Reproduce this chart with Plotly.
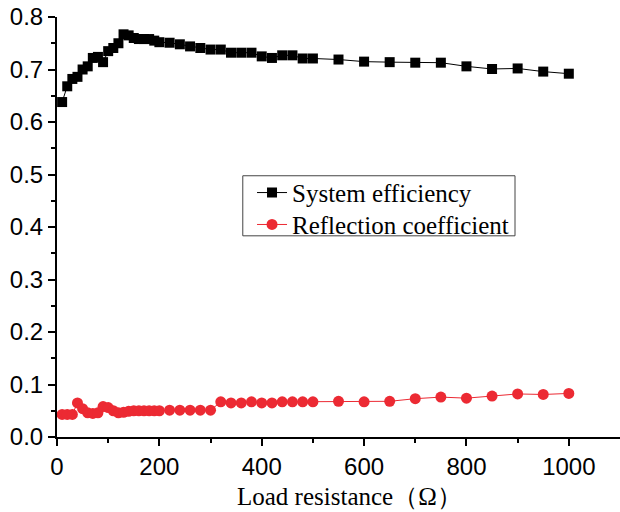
import plotly.graph_objects as go

resistance = [10, 20, 30, 40, 50, 60, 70, 80, 90, 100, 110, 120, 130, 140, 150, 160, 170, 180, 190, 200,
              220, 240, 260, 280, 300, 320, 340, 360, 380, 400, 420, 440, 460, 480, 500,
              550, 600, 650, 700, 750, 800, 850, 900, 950, 1000]
efficiency = [0.638, 0.668, 0.682, 0.686, 0.700, 0.706, 0.722, 0.724, 0.714, 0.735, 0.741, 0.750, 0.767, 0.765,
              0.760, 0.758, 0.758, 0.758, 0.755, 0.752,
              0.751, 0.748, 0.744, 0.741, 0.738, 0.738, 0.732, 0.732, 0.732, 0.725, 0.722, 0.727, 0.727, 0.721, 0.721,
              0.719, 0.715, 0.714, 0.713, 0.713, 0.706, 0.701, 0.702, 0.696, 0.692]
reflection = [0.043, 0.043, 0.043, 0.065, 0.054, 0.046, 0.045, 0.046, 0.058, 0.056, 0.050, 0.046, 0.047, 0.049,
              0.050, 0.050, 0.050, 0.050, 0.050, 0.050,
              0.051, 0.051, 0.051, 0.051, 0.051, 0.067, 0.065, 0.065, 0.067, 0.065, 0.065, 0.067, 0.067, 0.067, 0.067,
              0.068, 0.067, 0.068, 0.073, 0.076, 0.074, 0.078, 0.082, 0.081, 0.083]

x_ticks = [0, 200, 400, 600, 800, 1000]
y_ticks = [0.0, 0.1, 0.2, 0.3, 0.4, 0.5, 0.6, 0.7, 0.8]
y_ticklabels = ["0.0", "0.1", "0.2", "0.3", "0.4", "0.5", "0.6", "0.7", "0.8"]
x_title = "Load resistance（Ω）"

RED = "#ec2a33"

fig = go.Figure()
fig.add_trace(go.Scatter(
    x=resistance, y=efficiency, name="System efficiency", mode="lines+markers",
    line=dict(color="black", width=1),
    marker=dict(symbol="square", size=10, color="black"),
    cliponaxis=False, legend="legend",
))
fig.add_trace(go.Scatter(
    x=resistance, y=reflection, name="Reflection coefficient", mode="lines+markers",
    line=dict(color=RED, width=1),
    marker=dict(symbol="circle", size=11, color=RED),
    cliponaxis=False, legend="legend2",
))

axis_common = dict(
    showgrid=False, zeroline=False, showline=True, linecolor="black", linewidth=2,
    ticks="outside", ticklen=7, tickwidth=2, tickcolor="black", automargin=False,
    tickfont=dict(family="Liberation Sans, Arial", size=24, color="black"),
)

# legend frame (tight box, as in the reference)
fig.add_shape(type="rect", xref="paper", yref="paper",
              x0=0.330, x1=0.8135, y0=0.479, y1=0.622,
              line=dict(color="#444444", width=1), fillcolor="white", layer="below")

# x-axis title (placed like the reference, slightly right of centre)
fig.add_annotation(text=x_title, xref="paper", yref="paper", x=0.5204, y=-0.142,
                   xanchor="center", yanchor="middle", showarrow=False,
                   font=dict(family="Liberation Serif, Times New Roman", size=25, color="black"))

legend_common = dict(
    x=0.3464, xanchor="left", yanchor="middle",
    bgcolor="rgba(0,0,0,0)", borderwidth=0,
    font=dict(family="Liberation Serif, Times New Roman", size=25, color="black"),
    itemwidth=30,
)

fig.update_layout(
    width=620, height=512,
    margin=dict(l=57, r=0, t=17, b=74.5),
    paper_bgcolor="white", plot_bgcolor="white",
    showlegend=True,
    legend=dict(y=0.5814, **legend_common),
    legend2=dict(y=0.5054, **legend_common),
    xaxis=dict(
        range=[0, 1100], tickvals=x_ticks, ticktext=[str(v) for v in x_ticks],
        minor=dict(ticks="outside", ticklen=4, tickwidth=2, tickcolor="black", tickvals=[100, 300, 500, 700, 900]),
        **axis_common,
    ),
    yaxis=dict(
        range=[0, 0.8], tickvals=y_ticks, ticktext=y_ticklabels,
        minor=dict(ticks="outside", ticklen=4, tickwidth=2, tickcolor="black",
                   tickvals=[0.05, 0.15, 0.25, 0.35, 0.45, 0.55, 0.65, 0.75]),
        **axis_common,
    ),
)

fig.write_html("out.html", config={"displayModeBar": False},
               post_script="document.body.style.margin='0';")
